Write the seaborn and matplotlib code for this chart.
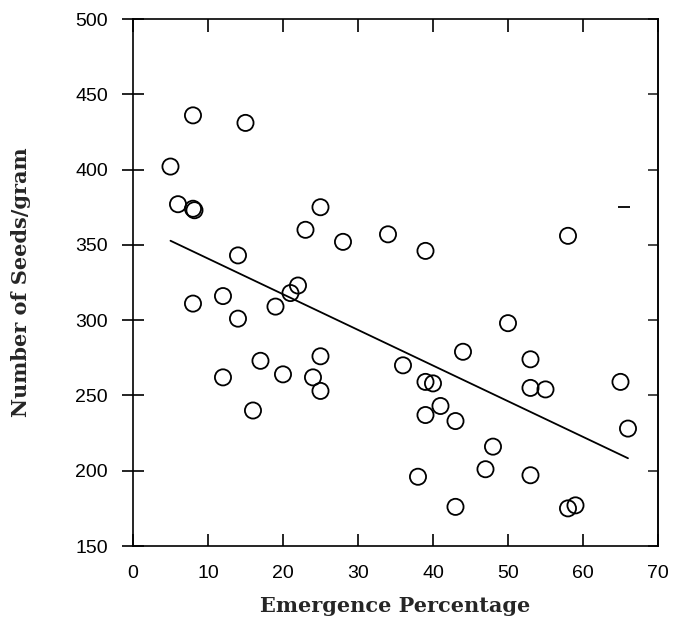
import matplotlib
matplotlib.use("Agg")
import matplotlib.pyplot as plt
import seaborn as sns
import pandas as pd

# Emergence percentage vs seeds per gram
emergence = [8, 15, 5, 6, 8, 8.2, 25, 23, 28, 34, 14, 39, 58,
             22, 21, 12, 8, 19, 14, 25, 17, 12, 20, 24, 25, 16,
             50, 44, 53, 36, 39, 40, 53, 55, 65, 41, 39, 43, 66,
             48, 47, 38, 53, 43, 58, 59]
seeds_per_gram = [436, 431, 402, 377, 374, 373, 375, 360, 352, 357, 343, 346, 356,
                  323, 318, 316, 311, 309, 301, 276, 273, 262, 264, 262, 253, 240,
                  298, 279, 274, 270, 259, 258, 255, 254, 259, 243, 237, 233, 228,
                  216, 201, 196, 197, 176, 175, 177]

# little stray dash in the original figure
stray_x = [65.5]
stray_y = [375]

x_ticks = [0, 10, 20, 30, 40, 50, 60, 70]
y_ticks = [150, 200, 250, 300, 350, 400, 450, 500]

df = pd.DataFrame({"Emergence Percentage": emergence,
                   "Number of Seeds/gram": seeds_per_gram})

sns.set_style("white")
plt.rcParams['font.family'] = ['Liberation Sans', 'DejaVu Sans']

fig = plt.figure(figsize=(6.73, 6.19), dpi=100)
ax = fig.add_axes([0.1976, 0.1179, 0.9777 - 0.1976, 0.9693 - 0.1179])

sns.regplot(data=df, x="Emergence Percentage", y="Number of Seeds/gram", ax=ax,
            ci=None, truncate=True,
            scatter_kws=dict(s=135, facecolors="none", edgecolors="black",
                             linewidths=1.3, alpha=1, zorder=3),
            line_kws=dict(color="black", lw=1.3))
ax.plot(stray_x, stray_y, marker="_", color="black", markersize=9, mew=1.3, ls="none")

ax.set_xlim(0, 70)
ax.set_ylim(150, 500)
ax.set_xticks(x_ticks)
ax.set_yticks(y_ticks)

for s in ax.spines.values():
    s.set_visible(True)
    s.set_color("black")
    s.set_linewidth(1.2)

# left ticks cross the spine
ax.tick_params(axis="y", left=True, right=False, direction="inout",
               length=16, width=1.2, labelsize=14, colors="black", pad=10)
ax.tick_params(axis="x", bottom=True, top=True, direction="in", length=9,
               width=1.2, labelsize=14, colors="black", pad=14)

# right ticks point inward, no labels
right = ax.secondary_yaxis("right")
right.set_yticks(y_ticks)
right.tick_params(axis="y", direction="in", length=7, width=1.2, labelright=False)
right.spines["right"].set_linewidth(1.2)

ax.set_xlabel("Emergence Percentage", family="DejaVu Serif", fontweight="bold",
              fontsize=15, labelpad=10)
ax.set_ylabel("Number of Seeds/gram", family="DejaVu Serif", fontweight="bold",
              fontsize=15, labelpad=32)

fig.savefig("out.png", dpi=100)
